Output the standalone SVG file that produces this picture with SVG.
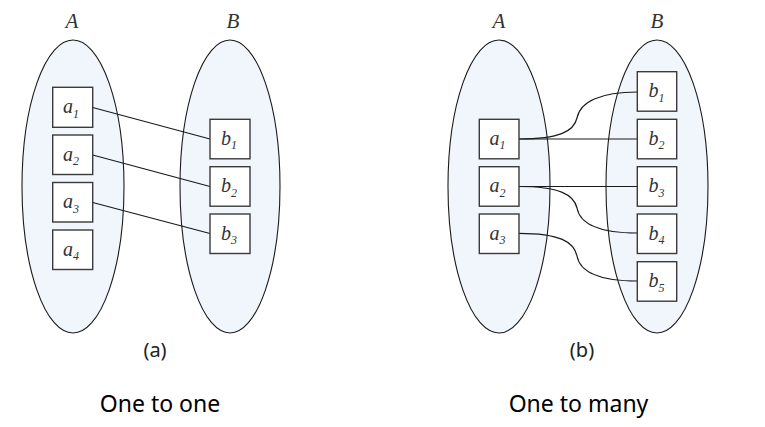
<svg xmlns="http://www.w3.org/2000/svg" width="765" height="427" viewBox="0 0 765 427">
<style>
.set{fill:#f0f6fc;stroke:#1a1a1a;stroke-width:1.1}
.box{fill:#fff;stroke:#3a3a3a;stroke-width:1.4}
.conn{fill:none;stroke:#1a1a1a;stroke-width:1.2}
.lab{font-family:"Liberation Serif",serif;font-style:italic;font-size:20px;fill:#333;text-anchor:middle}
.sub{font-size:12px}
.setlab{font-family:"Liberation Serif",serif;font-style:italic;font-size:21px;fill:#333;text-anchor:middle}
.cap{font-family:"Noto Sans","Open Sans",sans-serif;font-size:20px;fill:#222;text-anchor:middle}
.title{font-family:"Noto Sans","Open Sans",sans-serif;font-size:23px;fill:#000;text-anchor:middle}
</style>
<rect width="765" height="427" fill="#fff"/>

<!-- Panel (a) -->
<g id="setA1"><ellipse class="set" cx="73" cy="186.5" rx="51" ry="146.5"/><text class="setlab" x="72" y="28">A</text></g>
<g id="setB1"><ellipse class="set" cx="230" cy="186.5" rx="50" ry="146.5"/><text class="setlab" x="233" y="28">B</text></g>

<g id="connectors-a">
<line class="conn" x1="92.7" y1="107.5" x2="210" y2="139"/>
<line class="conn" x1="92.7" y1="155" x2="210" y2="186.5"/>
<line class="conn" x1="92.7" y1="202.5" x2="210" y2="233.5"/>
</g>

<g id="a1_a"><rect class="box" x="52.7" y="87.3" width="40" height="40"/><text class="lab" x="71" y="113">a<tspan class="sub" dy="4.5">1</tspan></text></g>
<g id="a2_a"><rect class="box" x="52.7" y="135" width="40" height="39.5"/><text class="lab" x="71" y="160.5">a<tspan class="sub" dy="4.5">2</tspan></text></g>
<g id="a3_a"><rect class="box" x="52.7" y="182.5" width="40" height="39.5"/><text class="lab" x="71" y="208">a<tspan class="sub" dy="4.5">3</tspan></text></g>
<g id="a4_a"><rect class="box" x="52.7" y="230" width="40" height="39.5"/><text class="lab" x="71" y="255.5">a<tspan class="sub" dy="4.5">4</tspan></text></g>

<g id="b1_a"><rect class="box" x="210" y="119.3" width="40" height="39.5"/><text class="lab" x="229" y="144.5">b<tspan class="sub" dy="4.5">1</tspan></text></g>
<g id="b2_a"><rect class="box" x="210" y="166.7" width="40" height="39.5"/><text class="lab" x="229" y="192">b<tspan class="sub" dy="4.5">2</tspan></text></g>
<g id="b3_a"><rect class="box" x="210" y="214" width="40" height="39.5"/><text class="lab" x="229" y="239.5">b<tspan class="sub" dy="4.5">3</tspan></text></g>

<text class="cap" x="155" y="357">(a)</text>

<!-- Panel (b) -->
<g id="setA2"><ellipse class="set" cx="499" cy="186.5" rx="51" ry="146.5"/><text class="setlab" x="499" y="28">A</text></g>
<g id="setB2"><ellipse class="set" cx="657" cy="186.5" rx="51" ry="146.5"/><text class="setlab" x="657" y="28">B</text></g>

<g id="connectors-b">
<path class="conn" d="M519,139 C560,139 574,131 577,118 C580,102 600,92 637.3,92"/>
<line class="conn" x1="519" y1="139" x2="637.3" y2="139"/>
<line class="conn" x1="519" y1="186.5" x2="637.3" y2="186.5"/>
<path class="conn" d="M519,186.5 C560,186.5 574,195 577,208 C580,224 600,233 637.3,233"/>
<path class="conn" d="M519,233.3 C560,233.3 574,242 577,256 C580,272 600,281 637.3,281"/>
</g>

<g id="a1_b"><rect class="box" x="479.3" y="119.3" width="39.7" height="39.5"/><text class="lab" x="497.5" y="144.5">a<tspan class="sub" dy="4.5">1</tspan></text></g>
<g id="a2_b"><rect class="box" x="479.3" y="166.7" width="39.7" height="39.5"/><text class="lab" x="497.5" y="192">a<tspan class="sub" dy="4.5">2</tspan></text></g>
<g id="a3_b"><rect class="box" x="479.3" y="214" width="39.7" height="39.5"/><text class="lab" x="497.5" y="239.5">a<tspan class="sub" dy="4.5">3</tspan></text></g>

<g id="b1_b"><rect class="box" x="637.3" y="71.7" width="39.4" height="39.5"/><text class="lab" x="656.5" y="97">b<tspan class="sub" dy="4.5">1</tspan></text></g>
<g id="b2_b"><rect class="box" x="637.3" y="119.3" width="39.4" height="39.5"/><text class="lab" x="656.5" y="144.5">b<tspan class="sub" dy="4.5">2</tspan></text></g>
<g id="b3_b"><rect class="box" x="637.3" y="166.7" width="39.4" height="39.5"/><text class="lab" x="656.5" y="192">b<tspan class="sub" dy="4.5">3</tspan></text></g>
<g id="b4_b"><rect class="box" x="637.3" y="214" width="39.4" height="39.5"/><text class="lab" x="656.5" y="239.5">b<tspan class="sub" dy="4.5">4</tspan></text></g>
<g id="b5_b"><rect class="box" x="637.3" y="261.7" width="39.4" height="39.5"/><text class="lab" x="656.5" y="287">b<tspan class="sub" dy="4.5">5</tspan></text></g>

<text class="cap" x="582" y="357">(b)</text>

<text class="title" x="160" y="412">One to one</text>
<text class="title" x="578.5" y="412">One to many</text>
</svg>
